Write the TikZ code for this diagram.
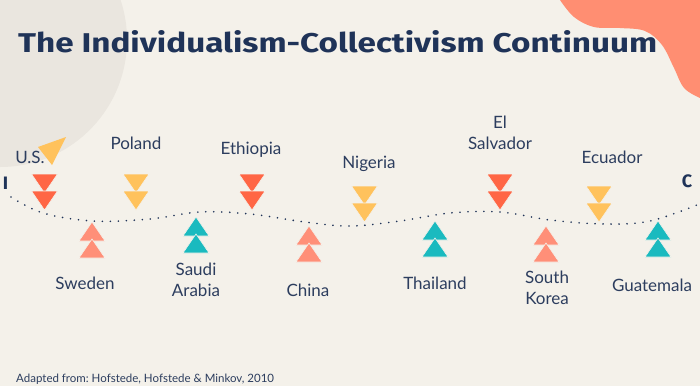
\documentclass[tikz,border=0pt]{standalone}
\usepackage{fontspec}
\usepackage{graphicx}
\setmainfont{Lato}
\newfontfamily\titlefont{Fira Sans}
\frenchspacing

\definecolor{bgcream}{HTML}{F4F1EA}
\definecolor{bgdisc}{HTML}{EAE6DF}
\definecolor{blobsalmon}{HTML}{FF8E72}
\definecolor{titlenavy}{HTML}{1F3358}
\definecolor{labelnavy}{HTML}{2C3D5E}
\definecolor{markred}{HTML}{FF6645}
\definecolor{markyellow}{HTML}{FFC25C}
\definecolor{marksalmon}{HTML}{FF8F78}
\definecolor{markteal}{HTML}{1ABABF}

\tikzset{
	country/.style={font=\fontsize{17}{21}\selectfont, text=labelnavy, anchor=base, align=center, inner sep=0pt},
	endmark/.style={font=\titlefont\bfseries\fontsize{18}{20}\selectfont, text=titlenavy, inner sep=0pt},
	tri/.style={draw=bgcream, line width=0.6pt}
}

\begin{document}
\begin{tikzpicture}[x=1pt,y=-1pt]
			
				\fill[bgcream] (0,0) rectangle (700,386);
				\useasboundingbox (0,0) rectangle (700,386);
				
				% decoration in the corners
				\begin{scope}
					\clip (0,0) rectangle (700,386);
					\fill[bgdisc] (0,40) circle (127pt);
					\fill[blobsalmon] plot[smooth, tension=0.6] coordinates {(560,0) (574,17) (594,27) (620,28) (645,31) (662,45) (674,68) (684,88) (700,98)} -- (700,0) -- cycle;
				\end{scope}
				
				\node[anchor=base west, inner sep=0pt, text=titlenavy] (title) at (18,52)
					{\resizebox{639pt}{22pt}{\titlefont\bfseries The Individualism-Collectivism Continuum}};
				
				% the continuum
				\draw[titlenavy, line width=1.8pt, line cap=round, dash pattern=on 0pt off 8pt]
					plot[smooth, tension=0.6] coordinates {(11,197) (43,213) (93,221) (150,219) (200,212) (250,214) (305,222) (350,226) (400,221) (450,213) (500,212) (550,220) (605,224) (650,221) (697,205)};
				\node[endmark] (indiv) at (5.5,183) {I};
				\node[endmark] (coll) at (687,181) {C};
				
				% markers above the line
				\foreach \x/\y/\c in {44.5/174/markred, 136/174/markyellow, 252/174/markred, 364.5/186/markyellow, 500/174/markred, 599/186/markyellow}{
					\filldraw[tri, fill=\c] (\x-13,\y) -- (\x+13,\y) -- (\x,\y+19) -- cycle;
					\filldraw[tri, fill=\c] (\x-13,\y+17) -- (\x+13,\y+17) -- (\x,\y+36) -- cycle;
				}
				% markers below the line
				\foreach \x/\y/\c in {92/222/marksalmon, 196/217/markteal, 309/226/marksalmon, 435/221/markteal, 546/226/marksalmon, 658/221/markteal}{
					\filldraw[tri, fill=\c] (\x,\y) -- (\x+13,\y+19) -- (\x-13,\y+19) -- cycle;
					\filldraw[tri, fill=\c] (\x,\y+17) -- (\x+13,\y+36) -- (\x-13,\y+36) -- cycle;
				}
				\fill[markyellow] (38,147) -- (66,137) -- (52,165) -- cycle;
				
				\node[country] (us) at (30,163) {U.S.};
				\node[country] (poland) at (136,149) {Poland};
				\node[country] (ethiopia) at (251,154) {Ethiopia};
				\node[country] (nigeria) at (369,168) {Nigeria};
				\node[country] (elsalvador) at (500,149) {El\\Salvador};
				\node[country] (ecuador) at (612,163) {Ecuador};
				
				\node[country] (sweden) at (85,289) {Sweden};
				\node[country] (saudi) at (196,296) {Saudi\\Arabia};
				\node[country] (china) at (308,296) {China};
				\node[country] (thailand) at (435,289) {Thailand};
				\node[country] (southkorea) at (547,304) {South\\Korea};
				\node[country] (guatemala) at (652,291) {Guatemala};
				
				\node[anchor=base west, inner sep=0pt, text=labelnavy, font=\fontsize{11.5}{14}\selectfont] (source) at (16,382)
					{Adapted from: Hofstede, Hofstede \& Minkov, 2010};
			\end{tikzpicture}
\end{document}
